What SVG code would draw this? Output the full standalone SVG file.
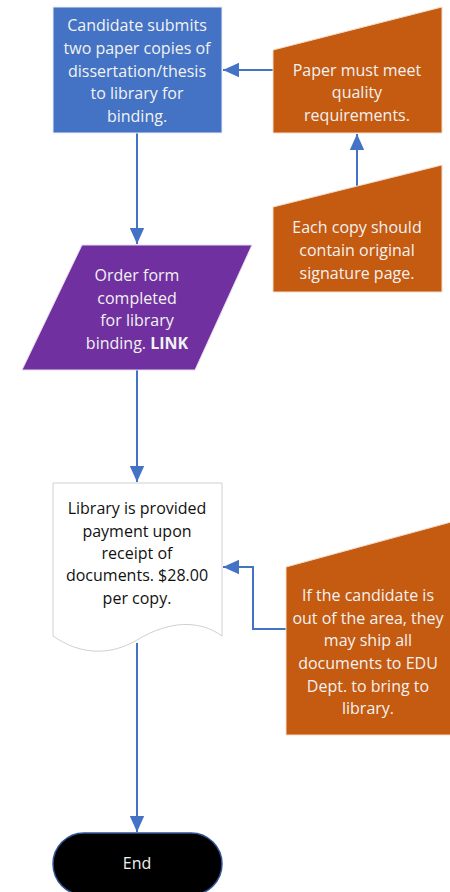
<svg xmlns="http://www.w3.org/2000/svg" width="450" height="892" viewBox="0 0 450 892">
<style>
text{font-family:"Open Sans","Noto Sans",Arial,sans-serif;font-size:16px;text-anchor:middle}
.w{fill:#f2f2f2}
.k{fill:#111}
.c{fill:none;stroke:#4472C4;stroke-width:2}
</style>
<defs>
<marker id="ah" viewBox="0 0 10 10" refX="10" refY="5" markerWidth="8" markerHeight="8" orient="auto" markerUnits="strokeWidth">
<path d="M0,0.5 L10,5 L0,9.5 z" fill="#4472C4"/>
</marker>
</defs>
<rect width="450" height="892" fill="#fff"/>
<g id="connectors">
<path class="c" d="M273,70 H223" marker-end="url(#ah)"/>
<path class="c" d="M357,187 V134" marker-end="url(#ah)"/>
<path class="c" d="M137,133 V244" marker-end="url(#ah)"/>
<path class="c" d="M137,370 V482" marker-end="url(#ah)"/>
<path class="c" d="M286,629 H253 V567 H223" marker-end="url(#ah)"/>
<path class="c" d="M137,643 V832" marker-end="url(#ah)"/>
</g>
<g id="submit">
<rect x="53" y="7" width="169" height="126" fill="#4472C4" stroke="#e8eef8" stroke-width="1"/>
<text class="w" x="137" y="31">Candidate submits</text>
<text class="w" x="137" y="54">two paper copies of</text>
<text class="w" x="137" y="77">dissertation/thesis</text>
<text class="w" x="137" y="99">to library for</text>
<text class="w" x="137" y="122">binding.</text>
</g>
<g id="paper">
<path d="M273,50 L442,7 V133 H273 Z" fill="#C55A11" stroke="#f4dccb" stroke-width="1"/>
<text class="w" x="357" y="76">Paper must meet</text>
<text class="w" x="357" y="98">quality</text>
<text class="w" x="357" y="121">requirements.</text>
</g>
<g id="copy">
<path d="M273,207 L442,165 V292 H273 Z" fill="#C55A11" stroke="#f4dccb" stroke-width="1"/>
<text class="w" x="357" y="233">Each copy should</text>
<text class="w" x="357" y="256">contain original</text>
<text class="w" x="357" y="279">signature page.</text>
</g>
<g id="order">
<path d="M82,245 H252 L195,370 H22 Z" fill="#7030A0" stroke="#e6dbef" stroke-width="1"/>
<text class="w" x="137" y="281">Order form</text>
<text class="w" x="137" y="304">completed</text>
<text class="w" x="137" y="326">for library</text>
<text class="w" x="137" y="349">binding. <tspan font-weight="bold">LINK</tspan></text>
</g>
<g id="payment">
<path d="M53,483 H222 V636 C200,620 170,620 137,640 C110,656 80,655 53,636 Z" fill="#fff" stroke="#d0d0d0" stroke-width="1"/>
<text class="k" x="137" y="514">Library is provided</text>
<text class="k" x="137" y="537">payment upon</text>
<text class="k" x="137" y="559">receipt of</text>
<text class="k" x="137" y="581">documents. $28.00</text>
<text class="k" x="137" y="604">per copy.</text>
</g>
<g id="ship">
<path d="M286,567 L455,521 V735 H286 Z" fill="#C55A11" stroke="#f4dccb" stroke-width="1"/>
<text class="w" x="368" y="601">If the candidate is</text>
<text class="w" x="368" y="624">out of the area, they</text>
<text class="w" x="368" y="646">may ship all</text>
<text class="w" x="368" y="669">documents to EDU</text>
<text class="w" x="368" y="692">Dept. to bring to</text>
<text class="w" x="368" y="714">library.</text>
</g>
<g id="end">
<rect x="53" y="833" width="169" height="62" rx="31" ry="31" fill="#000" stroke="#2F5597" stroke-width="1.5"/>
<text class="w" x="137" y="869">End</text>
</g>
</svg>
